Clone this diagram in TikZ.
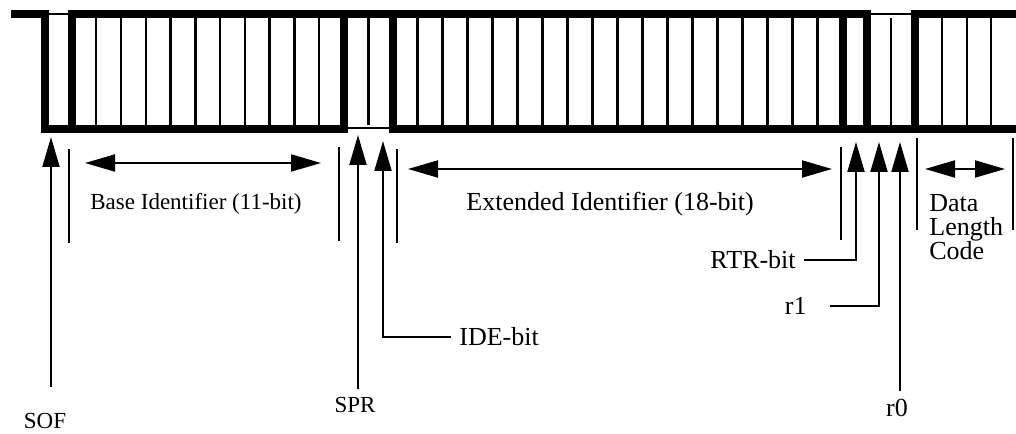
\documentclass[tikz,border=0pt]{standalone}
\usepackage{fontspec}
\setmainfont{Liberation Serif}
\usetikzlibrary{arrows.meta}

\begin{document}
\begin{tikzpicture}[x=0.5bp,y=-0.5bp]
            %
            % `wave' is used for the thick bus levels and edges.
            % `waveThin' is used for the level that is not driven.
            % `bitsep' is used for the lines between the bits.
            % `pointer' is used for the arrows to single bits.
            % `dimarrow' is used for the double arrows over a field.
            % `endmark' is used for the marks at the ends of a field.
            % `lbl' and `lblsmall' are used for the texts.
            \tikzstyle{wave} = [line width=4bp]
            \tikzstyle{waveThin} = [line width=1bp]
            \tikzstyle{bitsep} = [line width=1.2bp]
            \tikzstyle{pointer} = [line width=1bp,-{Triangle[length=15bp,width=8.5bp]}]
            \tikzstyle{dimarrow} = [line width=1bp,{Triangle[length=15bp,width=8.5bp]}-{Triangle[length=15bp,width=8.5bp]}]
            \tikzstyle{endmark} = [line width=1bp]
            \tikzstyle{lbl} = [font=\fontsize{13bp}{12bp}\selectfont,inner sep=4bp]
            \tikzstyle{lblsmall} = [font=\fontsize{11.5bp}{13bp}\selectfont,inner sep=4bp]
            \useasboundingbox (0,0) rectangle (1016,434);
            %
            % Bus levels
            \draw[wave] (11,14) -- (48.5,14);
            \draw[wave] (71.5,14) -- (866.5,14);
            \draw[wave] (914.5,14) -- (1016,14);
            \draw[wave] (44.5,129) -- (344,129);
            \draw[wave] (392.5,129) -- (1016,129);
            \draw[waveThin] (48.5,14) -- (71.5,14);
            \draw[waveThin] (866.5,14.5) -- (914.5,14.5);
            \draw[waveThin] (344,128) -- (392.5,128);
            \foreach \x in {44.5,71.5,344,392.5,842.5,866.5,914.5}
                \draw[wave] (\x,10) -- (\x,133);
            %
            % Bits
            \foreach \k in {1,...,10}
                \draw[bitsep] ({71.5+24.77*\k},18) -- ++(0,107);
            \draw[bitsep] (368.3,18) -- (368.3,125);
            \foreach \k in {1,...,17}
                \draw[bitsep] ({392.5+25*\k},18) -- ++(0,107);
            \draw[bitsep] (891,18) -- (891,125);
            \foreach \x in {942,967,991}
                \draw[bitsep] (\x,18) -- (\x,125);
            %
            % Field marks
            \draw[endmark] (69,149) -- (69,243);
            \draw[endmark] (339,147) -- (339,241);
            \draw[endmark] (397,149) -- (397,243);
            \draw[endmark] (841,147) -- (841,240);
            \draw[endmark] (917,138) -- (917,230);
            \draw[endmark] (1013,138) -- (1013,230);
            %
            % Fields
            \coordinate (baseL) at (85,163);
            \coordinate (baseR) at (321,163);
            \coordinate (extL) at (408,169);
            \coordinate (extR) at (832,169);
            \coordinate (dlcL) at (925,169);
            \coordinate (dlcR) at (1005,169);
            \draw[dimarrow] (baseL) -- (baseR);
            \draw[dimarrow] (extL) -- (extR);
            \draw[dimarrow] (dlcL) -- (dlcR);
            \node[lblsmall,anchor=base west] (basetxt) at (82,210) {Base Identifier (11-bit)};
            \node[lbl,anchor=base west] (exttxt) at (458,211) {Extended Identifier (18-bit)};
            \node[lbl,anchor=north west,align=left] (dlctxt) at (921,186) {Data\\Length\\Code};
            %
            % Single bits
            \node[lblsmall,anchor=base] (sof) at (45,429) {SOF};
            \node[lblsmall,anchor=base] (spr) at (355,413) {SPR};
            \node[lbl,anchor=base west] (ide) at (451,346) {IDE-bit};
            \node[lbl,anchor=base east] (rtr) at (804,269) {RTR-bit};
            \node[lbl,anchor=base east] (rone) at (815,315) {r1};
            \node[lbl,anchor=base] (rzero) at (897,417) {r0};
            \coordinate (sofTail) at (51,387);
            \coordinate (sofTip) at (51,137);
            \coordinate (sprTip) at (358,135);
            \coordinate (ideTip) at (383,141);
            \coordinate (rtrTip) at (856,142);
            \coordinate (roneTip) at (879,142);
            \coordinate (rzeroTip) at (900,142);
            \draw[pointer] (sofTail) -- (sofTip);
            \draw[pointer] (spr.north -| sprTip) -- (sprTip);
            \draw[pointer] (ide.west) -- (ide.west -| ideTip) -- (ideTip);
            \draw[pointer] (rtr.east) -- (rtr.east -| rtrTip) -- (rtrTip);
            \draw[pointer] ([xshift=7.5bp]rone.east) -- (rone.east -| roneTip) -- (roneTip);
            \draw[pointer] (rzero.north -| rzeroTip) -- (rzeroTip);
        \end{tikzpicture}
\end{document}
